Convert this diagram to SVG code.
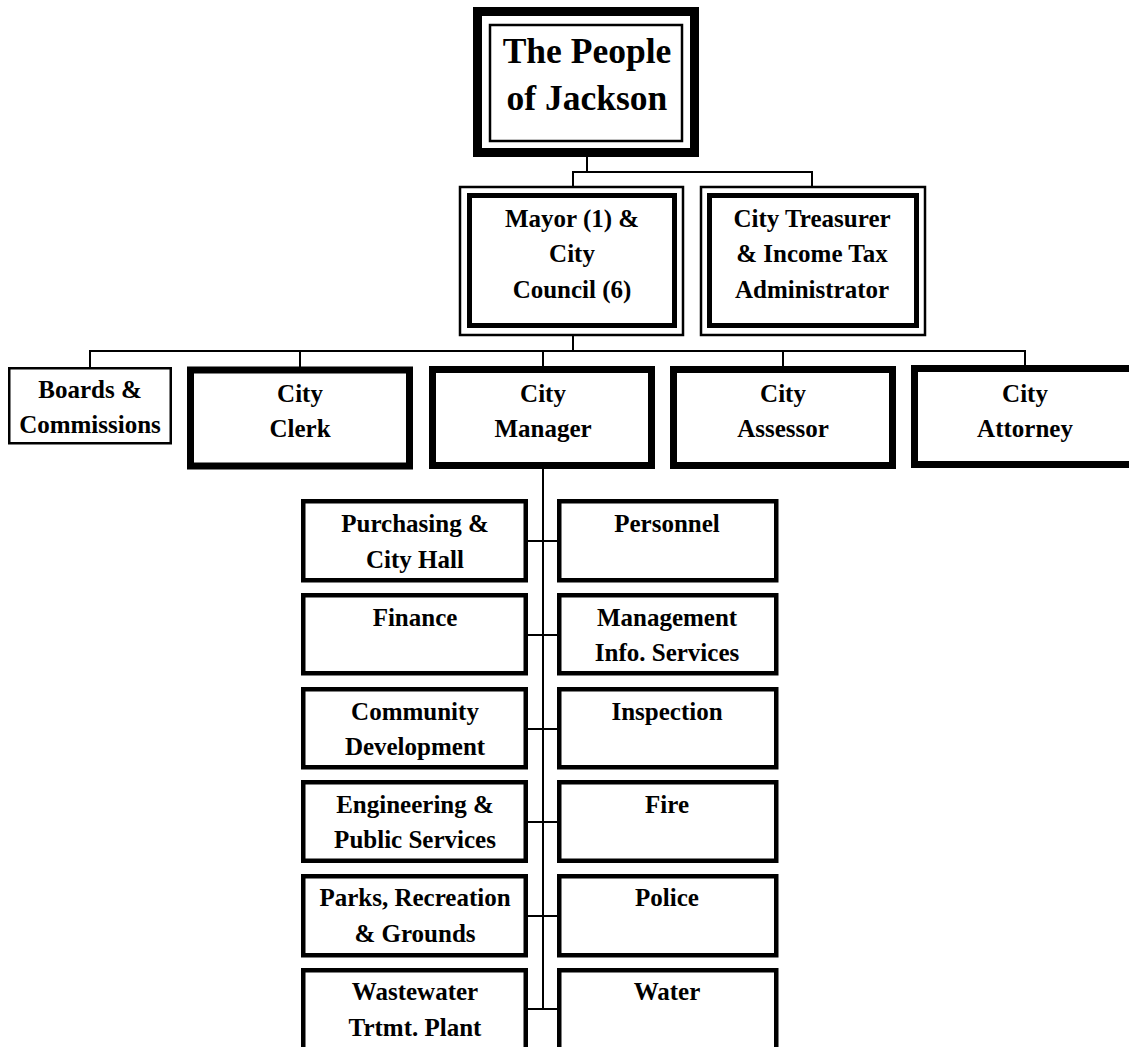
<svg xmlns="http://www.w3.org/2000/svg" width="1129" height="1047" viewBox="0 0 1129 1047">
<style>
  .bg { fill: #ffffff; }
  .box { fill: #ffffff; stroke: #000000; }
  .thin { stroke-width: 2.5; }
  .mid { stroke-width: 4.5; }
  .thick5 { stroke-width: 5; }
  .thick7 { stroke-width: 7; }
  .thick9 { stroke-width: 9; }
  .conn line { stroke: #000000; stroke-width: 2; }
  text { font-family: "Liberation Serif", "Times New Roman", serif; font-weight: bold; fill: #000000; text-anchor: middle; }
  .t36 { font-size: 35.5px; }
  .t25 { font-size: 25px; }
</style>
<rect class="bg" x="0" y="0" width="1129" height="1047"/>

<g id="connectors" class="conn">
  <line x1="587" y1="157" x2="587" y2="172"/>
  <line x1="572" y1="172" x2="813" y2="172"/>
  <line x1="573" y1="172" x2="573" y2="187"/>
  <line x1="812" y1="172" x2="812" y2="187"/>
  <line x1="573" y1="335" x2="573" y2="351"/>
  <line x1="89" y1="351" x2="1026" y2="351"/>
  <line x1="90" y1="351" x2="90" y2="368"/>
  <line x1="300" y1="351" x2="300" y2="367"/>
  <line x1="543" y1="351" x2="543" y2="367"/>
  <line x1="783" y1="351" x2="783" y2="367"/>
  <line x1="1025" y1="351" x2="1025" y2="367"/>
  <line x1="543" y1="469" x2="543" y2="1010"/>
  <line x1="526" y1="541" x2="559" y2="541"/>
  <line x1="526" y1="635" x2="559" y2="635"/>
  <line x1="526" y1="729" x2="559" y2="729"/>
  <line x1="526" y1="822" x2="559" y2="822"/>
  <line x1="526" y1="916" x2="559" y2="916"/>
  <line x1="526" y1="1009" x2="559" y2="1009"/>
</g>

<g id="people">
  <rect class="box thick9" x="477.5" y="11.5" width="217" height="141"/>
  <rect class="box thin" x="490" y="25" width="192" height="116"/>
  <text class="t36" x="587" y="63">The People</text>
  <text class="t36" x="587" y="110">of Jackson</text>
</g>

<g id="mayor">
  <rect class="box thin" x="460" y="187" width="223" height="148"/>
  <rect class="box thick5" x="469.5" y="195.5" width="205" height="130"/>
  <text class="t25" x="572" y="227">Mayor (1) &amp;</text>
  <text class="t25" x="572" y="262">City</text>
  <text class="t25" x="572" y="298">Council (6)</text>
</g>

<g id="treasurer">
  <rect class="box thin" x="701" y="187" width="224" height="148"/>
  <rect class="box thick5" x="709.5" y="195.5" width="207" height="130"/>
  <text class="t25" x="812" y="227">City Treasurer</text>
  <text class="t25" x="812" y="262">&amp; Income Tax</text>
  <text class="t25" x="812" y="298">Administrator</text>
</g>

<g id="boards">
  <rect class="box thin" x="9.25" y="368.25" width="161.5" height="75"/>
  <text class="t25" x="90" y="398">Boards &amp;</text>
  <text class="t25" x="90" y="433">Commissions</text>
</g>

<g id="clerk">
  <rect class="box thick7" x="190.5" y="370" width="219" height="96"/>
  <text class="t25" x="300" y="402">City</text>
  <text class="t25" x="300" y="437">Clerk</text>
</g>

<g id="manager">
  <rect class="box thick7" x="432.5" y="369.5" width="219" height="96"/>
  <text class="t25" x="543" y="402">City</text>
  <text class="t25" x="543" y="437">Manager</text>
</g>

<g id="assessor">
  <rect class="box thick7" x="673.5" y="369.5" width="219" height="96"/>
  <text class="t25" x="783" y="402">City</text>
  <text class="t25" x="783" y="437">Assessor</text>
</g>

<g id="attorney">
  <rect class="box thick7" x="914.5" y="368.5" width="221" height="96"/>
  <text class="t25" x="1025" y="402">City</text>
  <text class="t25" x="1025" y="437">Attorney</text>
</g>

<g id="purchasing">
  <rect class="box mid" x="303.25" y="501.25" width="222.5" height="79"/>
  <text class="t25" x="415" y="532">Purchasing &amp;</text>
  <text class="t25" x="415" y="568">City Hall</text>
</g>
<g id="personnel">
  <rect class="box mid" x="559.25" y="501.25" width="217" height="79"/>
  <text class="t25" x="667" y="532">Personnel</text>
</g>

<g id="finance">
  <rect class="box mid" x="303.25" y="595.25" width="222.5" height="78"/>
  <text class="t25" x="415" y="626">Finance</text>
</g>
<g id="mis">
  <rect class="box mid" x="559.25" y="595.25" width="217" height="78"/>
  <text class="t25" x="667" y="626">Management</text>
  <text class="t25" x="667" y="661">Info. Services</text>
</g>

<g id="community">
  <rect class="box mid" x="303.25" y="689.25" width="222.5" height="78"/>
  <text class="t25" x="415" y="720">Community</text>
  <text class="t25" x="415" y="755">Development</text>
</g>
<g id="inspection">
  <rect class="box mid" x="559.25" y="689.25" width="217" height="78"/>
  <text class="t25" x="667" y="720">Inspection</text>
</g>

<g id="engineering">
  <rect class="box mid" x="303.25" y="782.25" width="222.5" height="78.5"/>
  <text class="t25" x="415" y="813">Engineering &amp;</text>
  <text class="t25" x="415" y="848">Public Services</text>
</g>
<g id="fire">
  <rect class="box mid" x="559.25" y="782.25" width="217" height="78.5"/>
  <text class="t25" x="667" y="813">Fire</text>
</g>

<g id="parks">
  <rect class="box mid" x="303.25" y="876.25" width="222.5" height="79"/>
  <text class="t25" x="415" y="906">Parks, Recreation</text>
  <text class="t25" x="415" y="942">&amp; Grounds</text>
</g>
<g id="police">
  <rect class="box mid" x="559.25" y="876.25" width="217" height="79"/>
  <text class="t25" x="667" y="906">Police</text>
</g>

<g id="wastewater">
  <rect class="box mid" x="303.25" y="970.25" width="222.5" height="79"/>
  <text class="t25" x="415" y="1000">Wastewater</text>
  <text class="t25" x="415" y="1036">Trtmt. Plant</text>
</g>
<g id="water">
  <rect class="box mid" x="559.25" y="970.25" width="217" height="79"/>
  <text class="t25" x="667" y="1000">Water</text>
</g>
</svg>
